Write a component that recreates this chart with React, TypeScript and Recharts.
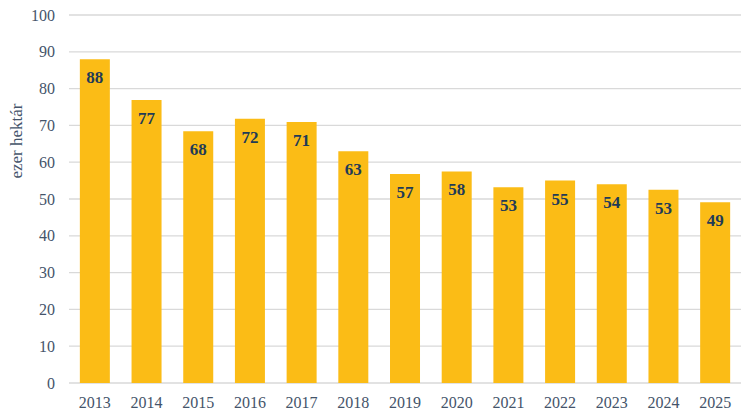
import React from 'react';
import { BarChart, Bar, XAxis, YAxis, CartesianGrid, LabelList, Label } from 'recharts';

const years = ['2013','2014','2015','2016','2017','2018','2019','2020','2021','2022','2023','2024','2025'];
const values = [88.0, 76.9, 68.4, 71.8, 70.9, 63.0, 56.8, 57.5, 53.2, 55.0, 54.0, 52.5, 49.1];
const yTicks = [0,10,20,30,40,50,60,70,80,90,100];

const data = years.map((y, i) => ({ year: y, value: values[i] }));

const FONT = "'Times New Roman', 'Liberation Serif', Tinos, serif";
const TICK = '#44546A';

export default function App() {
  return (
    <div style={{ position: 'absolute', left: 0, top: 0, width: 750, height: 415, background: '#fff', fontFamily: FONT }}>
      <BarChart width={750} height={415} data={data} margin={{ top: 15, right: 9, bottom: 0, left: 0 }} barCategoryGap="21%">
        <CartesianGrid vertical={false} stroke="#D9D9D9" strokeWidth={1.3} />
        <XAxis dataKey="year" axisLine={false} tickLine={false} tickSize={0} tickMargin={14} height={32}
          tick={{ fill: TICK, fontSize: 16, fontFamily: FONT }} interval={0} />
        <YAxis domain={[0, 100]} ticks={yTicks} axisLine={false} tickLine={false} tickSize={0} tickMargin={14} width={69}
          tick={{ fill: TICK, fontSize: 16, fontFamily: FONT }}>
          <Label content={() => (
            <text x={22} y={141} transform="rotate(-90 22 141)" textAnchor="middle" fill={TICK}
              fontSize={17} fontFamily={FONT}>ezer hektár</text>
          )} />
        </YAxis>
        <Bar dataKey="value" fill="#FBBC16" isAnimationActive={false}>
          <LabelList dataKey="value" position="insideTop" offset={12}
            formatter={(v: number) => Math.round(v)}
            style={{ fill: '#1F3B57', fontSize: 17, fontWeight: 'bold', fontFamily: FONT }} />
        </Bar>
      </BarChart>
    </div>
  );
}
